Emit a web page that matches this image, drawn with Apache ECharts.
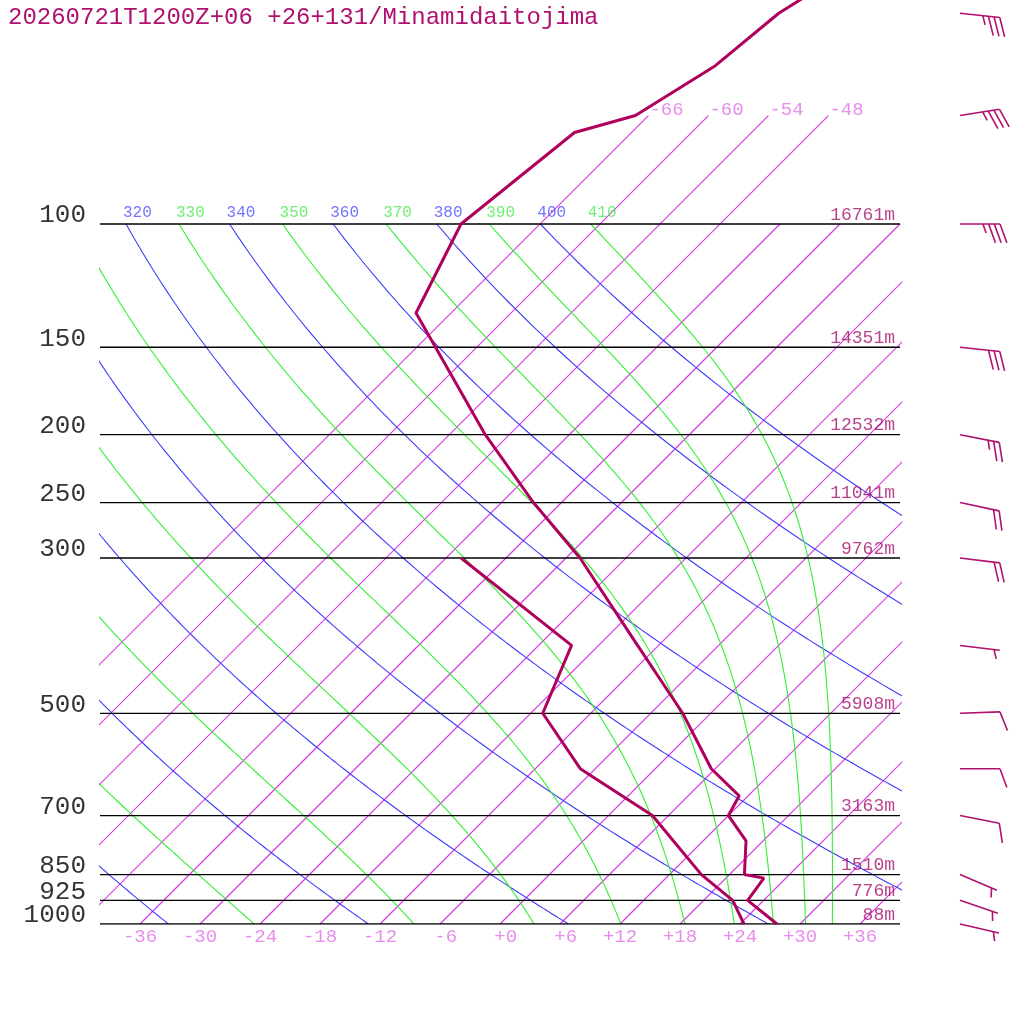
<!DOCTYPE html>
<html><head><meta charset="utf-8">
<script src="https://cdn.jsdelivr.net/npm/echarts@6/dist/echarts.min.js"></script>
<style>html,body{margin:0;padding:0;background:#fff}#c{width:1024px;height:1024px}</style>
</head><body><div id="c"></div>
<script>
// ---------------- data ----------------
const TITLE = '20260721T1200Z+06 +26+131/Minamidaitojima';
const TEMP_P = [1000, 925, 860, 850, 761, 700, 656, 600, 500, 400, 300, 250, 200, 134, 100, 74, 70, 59.4, 50, 45];
const TEMP_C = [27.7, 22.4, 21.8, 19.5, 16.3, 12.0, 11.1, 5.6, -2.8, -14.1, -28.6, -38.8, -50.4, -69.5, -73.9, -71.7, -67.3, -64.3, -63.2, -61.3];
const DEW_P = [1000, 925, 850, 759, 700, 600, 500, 400, 300];
const DEW_C = [24.4, 20.9, 15.2, 8.9, 4.4, -7.5, -16.8, -20.7, -40.5];
const LEVELS = [100, 150, 200, 250, 300, 500, 700, 850, 925, 1000];
const LEVEL_LABELS = ['100', '150', '200', '250', '300', '500', '700', '850', '925', '1000'];
const HEIGHT_LABELS = ['16761m', '14351m', '12532m', '11041m', '9762m', '5908m', '3163m', '1510m', '776m', '88m'];
const ISOTHERMS = [-66, -60, -54, -48, -42, -36, -30, -24, -18, -12, -6, 0, 6, 12, 18, 24, 30, 36];
const ISOTHERMS_UPPER = [-66, -60, -54, -48];
const ISOTHERM_TOP_P = 70;
const T_TICKS = [-36, -30, -24, -18, -12, -6, 0, 6, 12, 18, 24, 30, 36];
const T_TICK_LABELS = ['-36', '-30', '-24', '-18', '-12', '-6', '+0', '+6', '+12', '+18', '+24', '+30', '+36'];
const DRY_THETA = [240, 260, 280, 300, 320, 340, 360, 380, 400];
const DRY_LABELED = [320, 340, 360, 380, 400];
const MOIST_THETAE = [250, 270, 290, 310, 330, 350, 370, 390, 410];
const MOIST_LABELED = [330, 350, 370, 390, 410];
const WIND_P = [50, 70, 100, 150, 200, 250, 300, 400, 500, 600, 700, 850, 925, 1000];
const WIND_DIR = [96, 81, 90, 96, 101, 102, 97, 97, 88, 90, 101, 113, 109, 103];
const WIND_KT = [35, 35, 35, 30, 25, 20, 20, 5, 10, 10, 10, 5, 5, 5];

// ---------------- chart geometry / style ----------------
const SKEW = 70;            // deg C of skew per decade of pressure (45 deg isotherms)
const X_MIN = -40, X_MAX = 40;
const P_BOTTOM = 1000, P_TOP = 1000 * Math.pow(10, -924 / 700);
const BARB_X = 46;          // column of the wind barbs (x axis units)
const FONT = 'Liberation Mono';
const C_CURVE = '#b0005e', C_ISO = '#d83ee6', C_ISO_LBL = '#e070e8';
const C_DRY = '#3c3cff', C_MOIST = '#30f030';

const sx = (T, p) => T + SKEW * Math.log10(1000 / p);

function dryT(theta, p) { return theta * Math.pow(p / 1000, 0.2857) - 273.15; }
function thetaESat(TK, p) {
  const Tc = TK - 273.15;
  const es = 6.112 * Math.exp(17.67 * Tc / (Tc + 243.5));
  if (es > 0.5 * p) return Infinity;
  const r = 622 * es / (p - es);
  return TK * Math.pow(1000 / p, 0.2854 * (1 - 0.00028 * r)) *
    Math.exp((3.376 / TK - 0.00254) * r * (1 + 0.00081 * r));
}
function moistT(the, p) {
  let lo = 120, hi = 340;
  for (let i = 0; i < 60; i++) {
    const m = (lo + hi) / 2;
    if (thetaESat(m, p) > the) hi = m; else lo = m;
  }
  return (lo + hi) / 2 - 273.15;
}
const PSTEPS = [];
for (let p = 1000; p >= 100; p -= 5) PSTEPS.push(p);

const series = [];
function lineSeries(data, color, width, z) {
  series.push({ type: 'line', data, symbol: 'none', silent: true, clip: true, z: z || 2,
    color: color, itemStyle: { color: color },
    lineStyle: { color: color, width: width, opacity: 1 }, animation: false });
}
// isotherms
ISOTHERMS.forEach(T => {
  const top = ISOTHERMS_UPPER.includes(T) ? ISOTHERM_TOP_P : 100;
  lineSeries([[sx(T, 1000), 1000], [sx(T, top), top]], C_ISO, 1.2, 2);
});
// dry adiabats
DRY_THETA.forEach(th => lineSeries(PSTEPS.map(p => [sx(dryT(th, p), p), p]), C_DRY, 1.1, 3));
// moist adiabats
MOIST_THETAE.forEach(th => lineSeries(PSTEPS.map(p => [sx(moistT(th, p), p), p]), C_MOIST, 1.1, 3));
// pressure levels
LEVELS.forEach(p => lineSeries([[X_MIN, p], [X_MAX, p]], '#000', 1.3, 4));
// sounding
lineSeries(TEMP_P.map((p, i) => [sx(TEMP_C[i], p), p]), C_CURVE, 3, 10);
lineSeries(DEW_P.map((p, i) => [sx(DEW_C[i], p), p]), C_CURVE, 3, 10);

// text label series
function labelSeries(points, texts, style) {
  series.push({ type: 'scatter', symbolSize: 0, clip: false, silent: true, z: 20, animation: false,
    data: points,
    label: Object.assign({ show: true, position: 'inside', fontFamily: FONT,
      formatter: prm => texts[prm.dataIndex] }, style) });
}
labelSeries(LEVELS.map(p => [X_MIN, p]), LEVEL_LABELS,
  { align: 'right', offset: [-14, -8.5], fontSize: 26, color: '#000' });
labelSeries(LEVELS.map(p => [X_MAX, p]), HEIGHT_LABELS,
  { align: 'right', offset: [-5, -9], fontSize: 18, color: '#a8106e' });
labelSeries(T_TICKS.map(T => [T, 1000]), T_TICK_LABELS.map(s => s.padStart(3, ' ')),
  { align: 'center', offset: [0, 13], fontSize: 19, color: C_ISO_LBL });
labelSeries(ISOTHERMS_UPPER.map(T => [sx(T, ISOTHERM_TOP_P), ISOTHERM_TOP_P]), ISOTHERMS_UPPER.map(String),
  { align: 'left', offset: [1, -6], fontSize: 19, color: C_ISO_LBL });
labelSeries(DRY_LABELED.map(th => [sx(dryT(th, 100), 100), 100]), DRY_LABELED.map(String),
  { align: 'left', offset: [-3, -11], fontSize: 16, color: '#5050ff' });
labelSeries(MOIST_LABELED.map(th => [sx(moistT(th, 100), 100), 100]), MOIST_LABELED.map(String),
  { align: 'left', offset: [-3, -11], fontSize: 16, color: '#4ee84e' });

// wind barbs
series.push({
  type: 'custom', clip: false, silent: true, z: 15, animation: false,
  data: WIND_P.map((p, i) => [p, WIND_DIR[i], WIND_KT[i]]),
  renderItem: (params, api) => {
    const p = api.value(0), dir = api.value(1) * Math.PI / 180, spd = api.value(2);
    const b = api.coord([BARB_X, p]);
    const ux = Math.sin(dir), uy = -Math.cos(dir);
    const L = 40, GAP = 5.7, FULL = 20, HALF = 9.5;
    const fa = Math.atan2(uy, ux) + 70 * Math.PI / 180;
    const fx = Math.cos(fa), fy = Math.sin(fa);
    const st = { stroke: '#b0106e', lineWidth: 1.6, fill: null };
    const kids = [{ type: 'polyline', shape: { points: [b, [b[0] + L * ux, b[1] + L * uy]] }, style: st }];
    let n10 = Math.floor(spd / 10), half = (spd % 10) >= 5;
    let s = L;
    for (let k = 0; k < n10; k++) {
      const q = [b[0] + s * ux, b[1] + s * uy];
      kids.push({ type: 'polyline', shape: { points: [q, [q[0] + FULL * fx, q[1] + FULL * fy]] }, style: st });
      s -= GAP;
    }
    if (half) {
      if (n10 === 0) s = L - GAP;
      const q = [b[0] + s * ux, b[1] + s * uy];
      kids.push({ type: 'polyline', shape: { points: [q, [q[0] + HALF * fx, q[1] + HALF * fy]] }, style: st });
    }
    return { type: 'group', children: kids };
  }
});

const chart = echarts.init(document.getElementById('c'), null, { renderer: 'canvas' });
chart.setOption({
  animation: false,
  backgroundColor: '#fff',
  title: { text: TITLE, left: 8, top: 6, padding: 0,
    textStyle: { fontFamily: FONT, fontSize: 24, fontWeight: 'normal', color: '#b0106e' } },
  grid: { left: 100, right: 124, top: 0, bottom: 100, containLabel: false },
  xAxis: { type: 'value', min: X_MIN, max: X_MAX, show: false },
  yAxis: { type: 'log', logBase: 10, min: P_TOP, max: P_BOTTOM, inverse: true, show: false },
  series
});
</script></body></html>
